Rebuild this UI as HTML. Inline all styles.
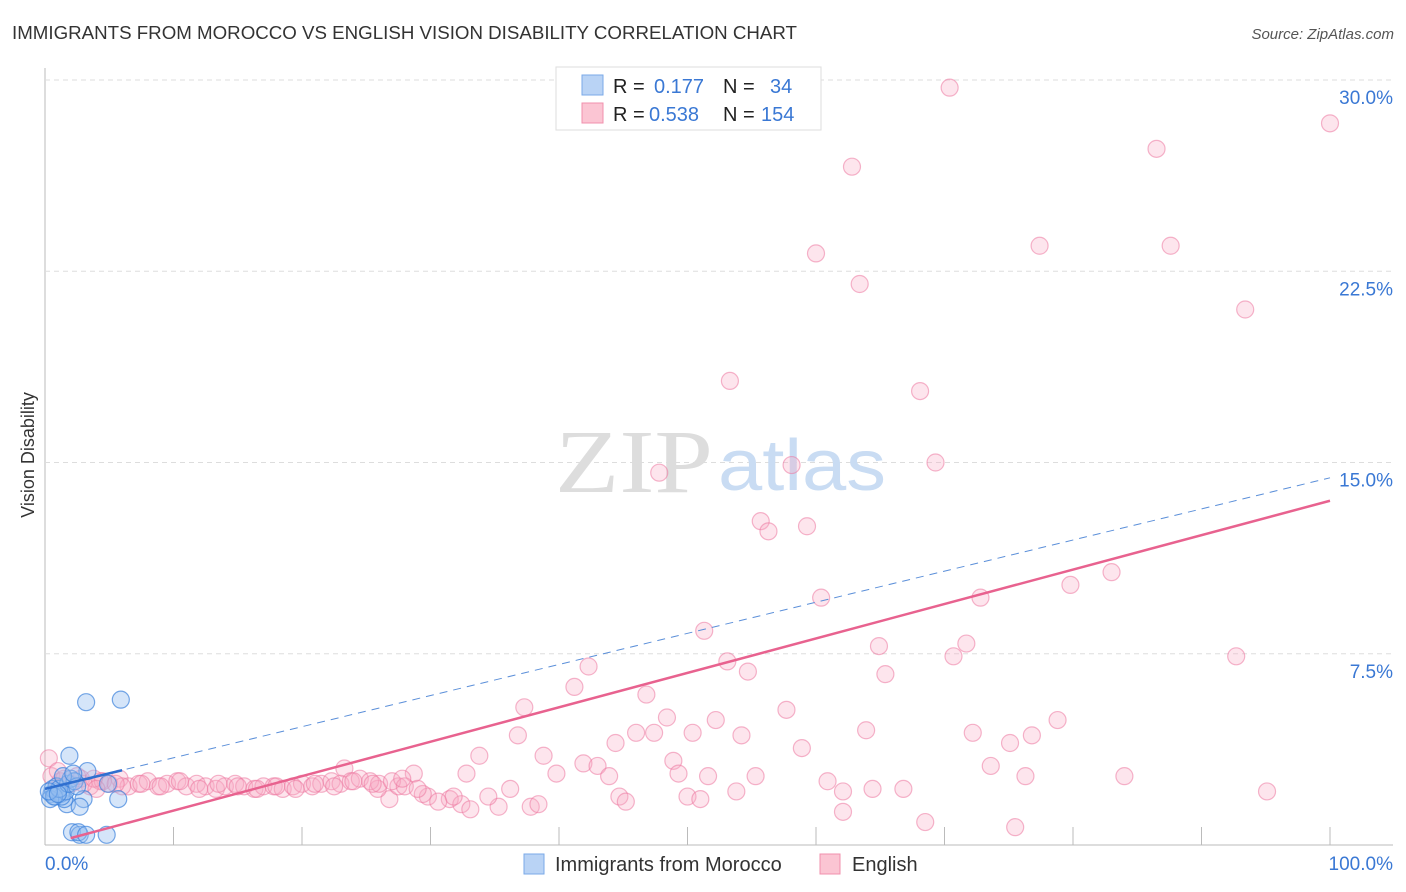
<!DOCTYPE html>
<html><head><meta charset="utf-8"><style>
body{margin:0;background:#fff;font-family:"Liberation Sans",sans-serif;}
svg{display:block}
</style></head><body>
<svg id="chart" width="1406" height="892">
<text x="12" y="39" font-size="18" fill="#333" textLength="785" lengthAdjust="spacingAndGlyphs">IMMIGRANTS FROM MOROCCO VS ENGLISH VISION DISABILITY CORRELATION CHART</text>
<text x="1394" y="39" font-size="15" fill="#555" font-style="italic" text-anchor="end">Source: ZipAtlas.com</text>
<g id="grid"></g>
<text x="555" y="492" font-size="90" fill="#ddd" font-family="Liberation Serif,serif" textLength="158" lengthAdjust="spacingAndGlyphs">ZIP</text>
<text x="718" y="490" font-size="72" fill="#c9dcf3" textLength="168" lengthAdjust="spacingAndGlyphs">atlas</text>
<text x="34" y="455" font-size="18" fill="#333" text-anchor="middle" transform="rotate(-90 34 455)">Vision Disability</text>
<g id="pts"></g>
<g id="lines"></g>
<g>
<rect x="556" y="67" width="265" height="63" fill="#fff" stroke="#ddd"/>
<rect x="582" y="75" width="21" height="20" fill="#b9d3f5" stroke="#7aaae8"/>
<rect x="582" y="103" width="21" height="20" fill="#fbc5d3" stroke="#f090ad"/>
<text x="613" y="93" font-size="20" fill="#222">R = <tspan fill="#3a78d4" x="654">0.177</tspan><tspan x="723">N = </tspan><tspan fill="#3a78d4" x="770">34</tspan></text>
<text x="613" y="121" font-size="20" fill="#222">R = <tspan fill="#3a78d4" x="649">0.538</tspan><tspan x="723">N = </tspan><tspan fill="#3a78d4" x="761">154</tspan></text>
</g>
<g>
<rect x="524" y="854" width="20" height="20" fill="#b9d3f5" stroke="#7aaae8"/>
<text x="555" y="871" font-size="20" fill="#333">Immigrants from Morocco</text>
<rect x="820" y="854" width="20" height="20" fill="#fbc5d3" stroke="#f090ad"/>
<text x="852" y="871" font-size="20" fill="#333">English</text>
</g>
</svg>
<script>
const yTicks=[7.5,15,22.5,30];
const yTickLabels=["7.5%","15.0%","22.5%","30.0%"];
const xTickLabels=["0.0%","100.0%"];
const blueX=[3.2,5.9,1.9,3.3,5.7,3.0,1.7,2.7,2.1,2.7,2.6,4.8,3.2,0.5,0.8,1.0,1.2,1.5,0.6,0.9,1.3,1.6,0.4,0.7,1.1,1.8,2.0,2.3,2.5,4.9,1.4,0.3,1.0,2.2];
const blueY=[5.6,5.7,3.5,2.9,1.8,1.8,1.6,1.5,0.5,0.4,0.5,0.4,0.4,2.0,1.9,2.1,2.0,1.8,2.2,2.3,1.9,2.1,1.8,1.9,2.2,2.4,2.6,2.5,2.3,2.4,2.7,2.1,2.0,2.8];
const pinkX=[70.4,100,62.8,86.5,60.0,77.4,87.6,63.4,93.4,53.3,68.1,47.8,58.1,69.3,55.7,56.3,59.3,83.0,79.8,60.4,72.8,51.3,64.9,71.7,42.3,53.1,70.7,92.7,54.7,65.4,41.2,46.8,37.3,57.7,48.4,52.2,78.8,36.8,46.0,47.4,50.4,54.2,63.9,72.2,76.8,75.1,44.4,58.9,33.8,38.8,48.9,41.9,43.0,73.6,23.3,28.7,32.8,39.8,43.9,49.3,51.6,55.3,76.3,84.0,60.9,62.1,64.4,66.8,53.8,44.7,50.0,51.0,45.2,95.1,68.5,75.5,62.1,37.8,38.4,35.3,34.5,36.2,31.5,32.4,33.1,31.8,29.8,30.6,29.4,26.8,25.9,27.5,
0.5,1.2,2.0,2.8,3.5,4.3,5.0,5.8,6.5,7.3,8.0,8.8,9.5,10.3,11.0,11.8,12.5,13.3,14.0,14.8,15.5,16.3,17.0,17.8,18.5,19.3,20.0,20.8,21.5,22.3,23.0,23.8,24.5,25.3,26.0,27.0,28.0,29.0,1.5,3.0,4.5,6.0,7.5,9.0,10.5,12.0,13.5,15.0,16.5,18.0,19.5,21.0,22.5,24.0,25.5,27.8,0.3,1.0,2.5,3.8,4.0,5.5];
const pinkY=[29.7,28.3,26.6,27.3,23.2,23.5,23.5,22.0,21.0,18.2,17.8,14.6,14.9,15.0,12.7,12.3,12.5,10.7,10.2,9.7,9.7,8.4,7.8,7.9,7.0,7.2,7.4,7.4,6.8,6.7,6.2,5.9,5.4,5.3,5.0,4.9,4.9,4.3,4.4,4.4,4.4,4.3,4.5,4.4,4.3,4.0,4.0,3.8,3.5,3.5,3.3,3.2,3.1,3.1,3.0,2.8,2.8,2.8,2.7,2.8,2.7,2.7,2.7,2.7,2.5,2.1,2.2,2.2,2.1,1.9,1.9,1.8,1.7,2.1,0.9,0.7,1.3,1.5,1.6,1.5,1.9,2.2,1.8,1.6,1.4,1.9,1.9,1.7,2.0,1.8,2.2,2.3,
2.7,2.5,2.4,2.6,2.3,2.5,2.4,2.6,2.3,2.4,2.5,2.3,2.4,2.5,2.3,2.4,2.3,2.2,2.3,2.4,2.3,2.2,2.3,2.3,2.2,2.3,2.4,2.3,2.4,2.5,2.4,2.5,2.6,2.5,2.4,2.5,2.3,2.2,2.6,2.4,2.5,2.3,2.4,2.3,2.5,2.2,2.4,2.3,2.2,2.3,2.2,2.4,2.3,2.5,2.4,2.6,3.4,2.9,2.7,2.6,2.2,2.4];
const pinkTrend=[0,13.5];
const blueTrend=[2.2,14.4];
const NS="http://www.w3.org/2000/svg";
const X0=45,X1=1330,Y0=845,YS=25.5;
const sx=v=>X0+(X1-X0)*v/100, sy=v=>Y0-v*YS;
function mk(tag,attrs,parent){const e=document.createElementNS(NS,tag);for(const k in attrs)e.setAttribute(k,attrs[k]);parent.appendChild(e);return e;}
const grid=document.getElementById('grid'),pts=document.getElementById('pts'),lines=document.getElementById('lines');
let ax=mk('line',{x1:X0,y1:68,x2:X0,y2:Y0,stroke:'#bbb'},grid);


let bx=mk('line',{x1:X0,y1:Y0,x2:1393,y2:Y0,stroke:'#bbb'},grid);


yTicks.forEach((t,i)=>{
 const g=mk('line',{x1:X0,y1:sy(t),x2:1393,y2:sy(t),stroke:'#ddd','stroke-dasharray':'5,4'},grid);
 
 
 const l=mk('text',{x:1393,y:sy(t)+24,'font-size':19,fill:'#3a78d4','text-anchor':'end'},grid);
 l.textContent=yTickLabels[i];
 
 
});
for(let i=1;i<=10;i++){
 const t=mk('line',{x1:sx(i*10),y1:Y0,x2:sx(i*10),y2:Y0-18,stroke:'#bbb'},grid);
 
 
}
[[0,'start',45],[100,'end',1393]].forEach((d,i)=>{
 const l=mk('text',{x:d[2],y:870,'font-size':19,fill:'#3a78d4','text-anchor':d[1]},grid);
 l.textContent=xTickLabels[i];
 
 
});
pinkX.forEach((x,i)=>{
 const c=mk('circle',{cx:sx(x),cy:sy(pinkY[i]),r:8.5,fill:'rgba(248,170,195,0.3)',stroke:'rgba(236,120,160,0.55)','stroke-width':1.2},pts);
 
 
});
blueX.forEach((x,i)=>{
 const c=mk('circle',{cx:sx(x),cy:sy(blueY[i]),r:8.5,fill:'rgba(150,190,240,0.4)',stroke:'rgba(60,130,220,0.7)','stroke-width':1.2},pts);
 
 
});
let bd=mk('line',{x1:sx(0),y1:sy(blueTrend[0]),x2:sx(100),y2:sy(blueTrend[1]),stroke:'#5b8fd9','stroke-width':1,'stroke-dasharray':'8,6'},lines);


const b6=blueTrend[0]+(blueTrend[1]-blueTrend[0])*0.06;
let bs=mk('line',{x1:sx(0),y1:sy(blueTrend[0]),x2:sx(6),y2:sy(b6),stroke:'#2f6fd0','stroke-width':2.5},lines);


let pl=mk('line',{x1:sx(2),y1:sy(pinkTrend[0]+(pinkTrend[1]-pinkTrend[0])*0.02),x2:sx(100),y2:sy(pinkTrend[1]),stroke:'#e8628f','stroke-width':2.5},lines);


</script>
</body></html>
